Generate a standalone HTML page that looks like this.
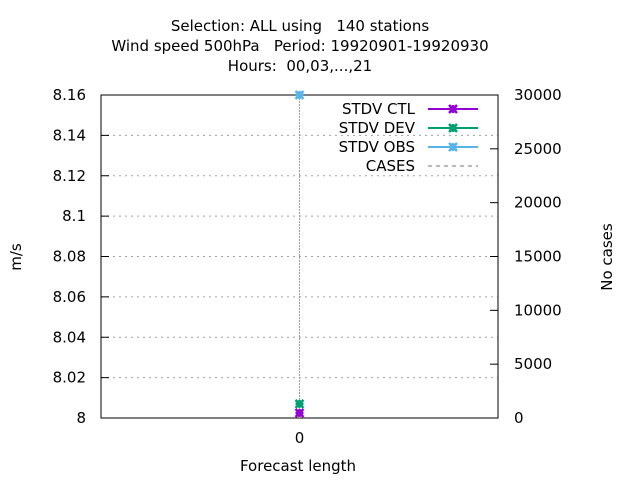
<!DOCTYPE html>
<html><head><meta charset="utf-8"><style>
body{margin:0;background:#fff;font-family:"Liberation Sans","DejaVu Sans",sans-serif}
svg text{font-family:"DejaVu Sans","Liberation Sans",sans-serif;font-size:15px;fill:#000;white-space:pre}
</style></head><body>
<svg id="c" width="640" height="480">
<g id="g"></g>
</svg>
<script>
const categories=[0];
const ctlValues=[8.0025];
const devValues=[8.007];
const obsValues=[8.16];
const casesValues=[30000];
const yTicks=[8,8.02,8.04,8.06,8.08,8.1,8.12,8.14,8.16];
const y2Ticks=[0,5000,10000,15000,20000,25000,30000];
const L=101,R=498,T=95,B=418;
const xS=v=>L+(v+1)/2*(R-L);
const yS=v=>B-(v-8)/0.16*(B-T);
const y2S=v=>B-v/30000*(B-T);
const g=document.getElementById('g');
const NS='http://www.w3.org/2000/svg';
function el(t,a,txt){const e=document.createElementNS(NS,t);for(const k in a)e.setAttribute(k,a[k]);if(txt!==undefined)e.textContent=txt;g.appendChild(e);return e;}
[["Selection: ALL using   140 stations",31],["Wind speed 500hPa   Period: 19920901-19920930",51],["Hours:  00,03,...,21",71]].forEach((t,i)=>{
const e=el('text',{x:300,y:t[1],'text-anchor':'middle'},t[0]);

});
yTicks.forEach(v=>{const y=yS(v);
if(v>8&&v<8.16){const gl=el('line',{x1:L,x2:R,y1:y,y2:y,stroke:'#a0a0a0','stroke-dasharray':'2,4'});
}
el('line',{x1:L,x2:L+8,y1:y,y2:y,stroke:'#000'});
const t=el('text',{x:86,y:y+5,'text-anchor':'end'},String(v===8?'8':v===8.1?'8.1':v.toFixed(2)));
});
y2Ticks.forEach(v=>{const y=y2S(v);
el('line',{x1:R-8,x2:R,y1:y,y2:y,stroke:'#000'});
const t=el('text',{x:514,y:y+5},String(v));
});
categories.forEach(c=>{const x=xS(c);
const gl=el('line',{x1:x,x2:x,y1:T,y2:B,stroke:'#a0a0a0','stroke-dasharray':'2,4'});

el('line',{x1:x,x2:x,y1:B,y2:B-8,stroke:'#000'});
const t=el('text',{x:x,y:443,'text-anchor':'middle'},String(c));
});
const fr=el('rect',{x:L,y:T,width:R-L,height:B-T,fill:'none',stroke:'#000'});

let a=el('text',{x:298,y:471,'text-anchor':'middle'},'Forecast length');
a=el('text',{x:21,y:257,'text-anchor':'middle',transform:'rotate(-90 21 257)'},'m/s');
a=el('text',{x:612,y:257,'text-anchor':'middle',transform:'rotate(-90 612 257)'},'No cases');
categories.forEach((c,i)=>{const l=el('line',{x1:xS(c),x2:xS(c),y1:y2S(0),y2:y2S(casesValues[i]),stroke:'#a0a0a0','stroke-dasharray':'2,4','stroke-width':1.2});
});
function marker(x,y,col,name){const m=el('g',{});

const p=document.createElementNS(NS,'path');
p.setAttribute('d',`M${x-4} ${y-4}L${x+4} ${y+4}M${x-4} ${y+4}L${x+4} ${y-4}M${x-4} ${y}H${x+4}M${x} ${y-4}V${y+4}`);
p.setAttribute('stroke',col);p.setAttribute('stroke-width',2.5);m.appendChild(p);
const r=document.createElementNS(NS,'rect');r.setAttribute('x',x-3);r.setAttribute('y',y-3);r.setAttribute('width',6);r.setAttribute('height',6);r.setAttribute('fill',col);m.appendChild(r);}
const series=[[ctlValues,'#9400d3','ctl'],[devValues,'#009e73','dev'],[obsValues,'#56b4e9','obs']];
series.forEach(s=>categories.forEach((c,i)=>marker(xS(c),yS(s[0][i]),s[1],'point-'+s[2])));
const leg=[['STDV CTL','#9400d3'],['STDV DEV','#009e73'],['STDV OBS','#56b4e9']];
leg.forEach((l,i)=>{const y=109+i*19;
const t=el('text',{x:415,y:y+5,'text-anchor':'end'},l[0]);
el('line',{x1:428,x2:478,y1:y,y2:y,stroke:l[1],'stroke-width':2});marker(453,y,l[1],'legend-marker');});
const t=el('text',{x:415,y:171,'text-anchor':'end'},'CASES');
el('line',{x1:428,x2:478,y1:166,y2:166,stroke:'#a0a0a0','stroke-dasharray':'4,4','stroke-width':1.5});
</script>
</body></html>
